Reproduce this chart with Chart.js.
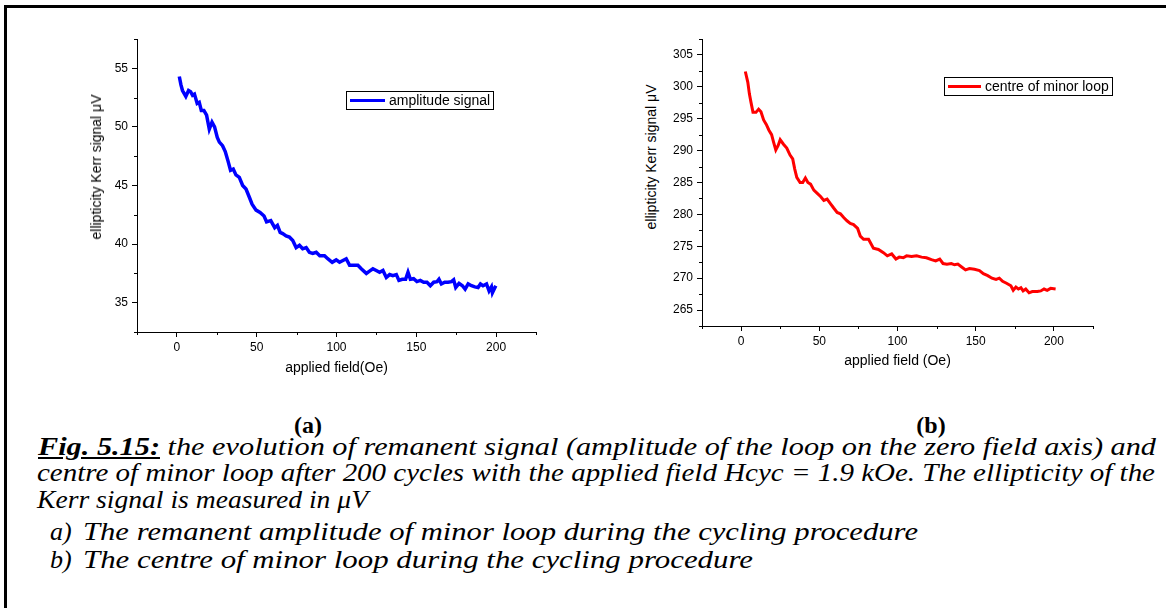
<!DOCTYPE html>
<html>
<head>
<meta charset="utf-8">
<script src="https://cdn.jsdelivr.net/npm/chart.js@4.4.1/dist/chart.umd.min.js"></script>
<style>
  html, body { margin: 0; padding: 0; background: #fff; }
  #page { position: relative; width: 1166px; height: 608px; overflow: hidden; background: #fff; }
  #frame { position: absolute; left: 4px; top: 5px; width: 1300px; height: 700px;
           border-left: 3px solid #000; border-top: 3px solid #000; }
  canvas { position: absolute; }
  .ytitle { position: absolute; font-family: "Liberation Sans", Arial, sans-serif; font-size: 14px;
            color: #000; white-space: nowrap; transform: translate(-50%, -50%) rotate(-90deg); }
  .panel { position: absolute; font-family: "Liberation Serif", "Times New Roman", serif;
           font-weight: bold; font-size: 24px; transform: translate(-50%, -50%); }
  .item { position: absolute; font-family: "Liberation Serif", "Times New Roman", serif;
          font-style: italic; font-size: 26px; line-height: 27px; color: #000; white-space: nowrap;
          transform-origin: left top; }
  .figno { font-weight: bold; text-decoration: underline; }
</style>
</head>
<body>
<div id="page">
  <div id="frame"></div>
  <canvas id="chartA" width="470" height="370" style="left:90px; top:20px;"></canvas>
  <canvas id="chartB" width="460" height="370" style="left:660px; top:20px;"></canvas>
  <div class="ytitle" style="left:96px; top:167px;">ellipticity Kerr signal μV</div>
  <div class="ytitle" style="left:651px; top:157px;">ellipticity Kerr signal μV</div>

  <div class="panel" style="left:308px; top:425px;">(a)</div>
  <div class="panel" style="left:931px; top:425px;">(b)</div>

  <div class="item" style="left:38px; top:433px;" data-right="1156"><span class="figno">Fig. 5.15:</span> the evolution of remanent signal (amplitude of the loop on the zero field axis) and</div>
  <div class="item" style="left:37px; top:459px;" data-right="1155">centre of minor loop after 200 cycles with the applied field Hcyc = 1.9 kOe. The ellipticity of the</div>
  <div class="item" style="left:37px; top:486px;" data-right="368">Kerr signal is measured in μV</div>
  <div class="item" style="left:50px; top:518px;">a)</div>
  <div class="item" style="left:83px; top:518px;" data-right="918">The remanent amplitude of minor loop during the cycling procedure</div>
  <div class="item" style="left:50px; top:546px;">b)</div>
  <div class="item" style="left:83px; top:546px;" data-right="753">The centre of minor loop during the cycling procedure</div>
</div>

<script>
// (a) remanent amplitude vs applied field
var fieldA = [1.5, 2.5, 3.5, 5.6, 7.3, 8.6, 9.8, 11.0, 12.7, 14.0, 15.3, 16.9, 18.6, 20.3, 22.0, 23.6, 25.3, 26.6,
    28.6, 30.3, 32.0, 33.6, 35.3, 37.0, 39.1, 41.2, 43.3, 45.4, 47.1, 49.6, 52.1, 54.6, 56.2, 58.8, 61.3, 63.0,
    64.7, 66.3, 68.4, 70.5, 72.6, 74.7, 76.8, 78.8, 81.0, 83.0, 85.1, 87.3, 89.5, 92.5, 94.5, 97.3, 99.8, 101.9,
    104.0, 106.1, 108.2, 110.3, 113.4, 115.5, 118.7, 120.7, 122.8, 124.9, 127.0, 129.1, 131.2, 133.3, 135.3,
    137.5, 139.1, 141.2, 143.3, 144.8, 146.3, 148.3, 150.4, 152.5, 154.6, 156.7, 158.8, 160.9, 163.0, 164.2,
    165.7, 167.8, 169.9, 172.0, 173.4, 174.7, 176.8, 178.9, 180.6, 182.5, 184.6, 186.7, 188.7, 190.2, 191.8,
    194.0, 195.6, 197.1, 197.7, 199.8];
var amplitude = [54.3, 53.6, 53.1, 52.6, 53.1, 53.0, 52.7, 52.8, 52.0, 52.1, 51.4, 51.4, 51.0, 49.8, 50.4, 50.0, 49.1, 48.7,
    48.4, 47.9, 47.1, 46.3, 46.4, 45.9, 45.7, 45.0, 44.7, 44.0, 43.4, 42.9, 42.7, 42.4, 41.9, 42.0, 41.4, 41.6,
    41.0, 40.9, 40.7, 40.6, 40.3, 39.7, 39.9, 39.6, 39.7, 39.3, 39.2, 39.3, 39.0, 39.0, 38.75, 38.45, 38.65, 38.45,
    38.6, 38.75, 38.2, 38.2, 38.2, 37.9, 37.5, 37.7, 37.9, 37.75, 37.6, 37.75, 37.15, 37.4,
    37.3, 37.4, 36.9, 37.0, 37.0, 37.6, 37.0, 37.05, 36.8, 36.9, 36.75, 36.75, 36.45, 36.75, 36.8, 37.0,
    36.6, 36.75, 36.75, 36.8, 36.95, 36.3, 36.65, 36.45, 36.15, 36.6, 36.45, 36.35, 36.3, 36.6, 36.45,
    36.6, 36.0, 36.35, 35.85, 36.45];

// (b) centre of minor loop vs applied field
var fieldB = [2.7, 4.3, 5.3, 6.3, 7.6, 9.5, 11.2, 12.7, 14.4, 16.1, 17.8, 19.5, 20.8, 22.2, 23.7, 25.0, 27.1, 29.2,
    31.3, 33.0, 34.3, 35.6, 37.7, 39.4, 41.1, 42.7, 44.4, 46.5, 48.7, 50.8, 52.9, 55.0, 57.1, 59.2, 61.4, 63.5,
    65.6, 67.7, 69.8, 71.9, 74.5, 76.2, 78.3, 81.5, 84.6, 87.8, 91.0, 93.5, 96.3, 99.0, 101.1, 103.7, 105.8,
    109.0, 112.2, 115.4, 118.5, 121.7, 124.4, 127.0, 129.1, 131.6, 134.4, 136.5, 138.6, 140.8, 143.5, 146.0,
    149.2, 152.4, 154.9, 157.7, 160.4, 163.0, 165.1, 167.2, 169.7, 172.5, 174.0, 175.7, 177.3, 178.9, 180.3,
    182.0, 184.1, 186.2, 189.4, 191.6, 193.7, 195.7, 197.9, 201.1];
var centre = [302.4, 300.7, 298.9, 297.6, 296.0, 296.0, 296.5, 296.1, 294.8, 294.1, 293.2, 292.5, 291.3, 290.1, 290.8, 291.7, 291.0, 290.4,
    289.3, 288.7, 287.1, 285.8, 285.0, 285.0, 285.7, 285.0, 284.75, 283.8, 283.3, 282.8, 282.2, 282.4, 281.7, 281.0, 280.3, 280.1,
    279.5, 279.0, 278.6, 278.4, 277.8, 276.6, 276.1, 276.1, 274.7, 274.5, 274.0, 273.5, 273.8, 273.0, 273.3, 273.2, 273.5,
    273.4, 273.5, 273.3, 273.2, 272.9, 272.7, 273.0, 272.3, 272.2, 272.3, 272.1, 272.2, 271.8, 271.3, 271.5,
    271.4, 271.2, 270.7, 270.4, 270.0, 269.8, 270.0, 269.5, 269.2, 268.8, 268.1, 268.6, 268.3, 268.5, 268.0,
    268.3, 267.7, 267.9, 267.9, 268.0, 268.3, 268.1, 268.4, 268.3];

var FONT = '"Liberation Sans", Arial, sans-serif';

// stretch the caption lines to the width they have in the scanned figure
document.querySelectorAll('.item[data-right]').forEach(function (el) {
    var left = parseFloat(el.style.left);
    var w = el.getBoundingClientRect().width;
    el.style.transform = 'scaleX(' + ((+el.dataset.right - left) / w) + ')';
});

function isMult(v, step) {
    var r = v / step;
    return Math.abs(r - Math.round(r)) < 1e-6;
}

// small ticks between the labelled ones
var minorTicks = {
    id: 'minorTicks',
    afterDraw(chart) {
        var ctx = chart.ctx;
        var xs = chart.scales.x, ys = chart.scales.y;
        ctx.save();
        ctx.strokeStyle = '#000';
        ctx.lineWidth = 1;
        xs.ticks.forEach(function (t) {
            if (isMult(t.value, 50)) return;
            var p = Math.round(xs.getPixelForValue(t.value)) + 0.5;
            ctx.beginPath(); ctx.moveTo(p, xs.top); ctx.lineTo(p, xs.top + 3); ctx.stroke();
        });
        ys.ticks.forEach(function (t) {
            if (isMult(t.value, 5)) return;
            var p = Math.round(ys.getPixelForValue(t.value)) + 0.5;
            ctx.beginPath(); ctx.moveTo(ys.right, p); ctx.lineTo(ys.right - 3, p); ctx.stroke();
        });
        ctx.restore();
    }
};

// boxed legend inside the plot, Origin style
var boxLegend = {
    id: 'boxLegend',
    afterDraw(chart, args, opts) {
        var ctx = chart.ctx, area = chart.chartArea;
        var ds = chart.data.datasets[0];
        ctx.save();
        ctx.font = '14px ' + FONT;
        var tw = ctx.measureText(ds.label).width;
        var x = Math.round(area.left + opts.x), y = Math.round(area.top + opts.y);
        var w = Math.round(4 + opts.sample + 4 + tw + 3), h = 18;
        ctx.strokeStyle = '#000';
        ctx.lineWidth = 1;
        ctx.strokeRect(x + 0.5, y + 0.5, w, h);
        ctx.strokeStyle = ds.borderColor;
        ctx.lineWidth = 3;
        ctx.beginPath();
        ctx.moveTo(x + 4, y + h / 2 + 0.5);
        ctx.lineTo(x + 4 + opts.sample, y + h / 2 + 0.5);
        ctx.stroke();
        ctx.fillStyle = '#000';
        ctx.textBaseline = 'middle';
        ctx.fillText(ds.label, x + 8 + opts.sample, y + h / 2 + 1);
        ctx.restore();
    }
};

function makeChart(id, label, xs, ys, color, lineW, yMin, yMax, yWidth, xHeight, xTitle, pad, legendPos) {
    var ctx = document.getElementById(id).getContext('2d');
    return new Chart(ctx, {
        type: 'line',
        data: {
            datasets: [{
                label: label,
                data: xs.map(function (x, i) { return { x: x, y: ys[i] }; }),
                borderColor: color,
                backgroundColor: color,
                borderWidth: lineW,
                pointRadius: 0,
                fill: false,
                tension: 0
            }]
        },
        options: {
            responsive: false,
            animation: false,
            devicePixelRatio: 1,
            layout: { padding: pad },
            plugins: {
                legend: { display: false },
                tooltip: { enabled: false },
                boxLegend: legendPos
            },
            scales: {
                x: {
                    type: 'linear',
                    min: -25, max: 225,
                    afterFit: function (s) { s.height = xHeight; },
                    border: { display: true, color: '#000', width: 1 },
                    grid: {
                        drawOnChartArea: false, drawTicks: true, tickLength: 5,
                        tickColor: function (c) { return isMult(c.tick.value, 50) ? '#000' : 'rgba(0,0,0,0)'; }
                    },
                    ticks: {
                        stepSize: 25, autoSkip: false, maxRotation: 0, padding: 3, color: '#000',
                        font: { family: FONT, size: 12 },
                        callback: function (v) { return isMult(v, 50) && v >= 0 && v <= 200 ? String(v) : ''; }
                    },
                    title: { display: true, text: xTitle, color: '#000', padding: 0, font: { family: FONT, size: 14 } }
                },
                y: {
                    min: yMin, max: yMax,
                    afterFit: function (s) { s.width = yWidth; },
                    border: { display: true, color: '#000', width: 1 },
                    grid: {
                        drawOnChartArea: false, drawTicks: true, tickLength: 5,
                        tickColor: function (c) { return isMult(c.tick.value, 5) ? '#000' : 'rgba(0,0,0,0)'; }
                    },
                    ticks: {
                        stepSize: 2.5, autoSkip: false, padding: 4, color: '#000',
                        font: { family: FONT, size: 12 },
                        callback: function (v) { return isMult(v, 5) ? String(Math.round(v)) : ''; }
                    }
                }
            }
        },
        plugins: [minorTicks, boxLegend]
    });
}

makeChart('chartA', 'amplitude signal', fieldA, amplitude, '#0000ff', 3.5, 32.5, 57.5, 47, 45,
    'applied field(Oe)', { left: 0, top: 19, right: 24, bottom: 13 }, { x: 209, y: 52, sample: 35 });
makeChart('chartB', 'centre of minor loop', fieldB, centre, '#ff0000', 3, 262.5, 307.5, 42, 44,
    'applied field (Oe)', { left: 0, top: 19, right: 27, bottom: 20 }, { x: 242, y: 38, sample: 33 });
</script>
</body>
</html>
